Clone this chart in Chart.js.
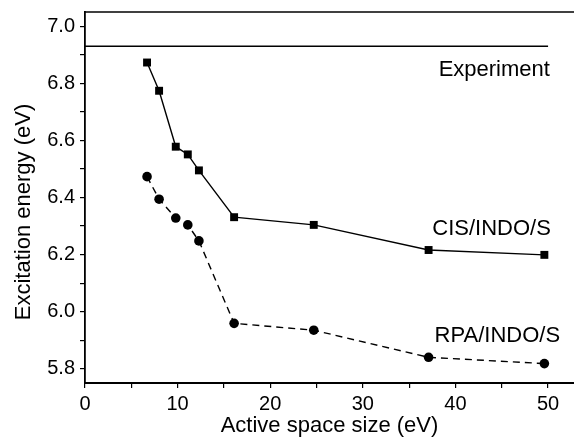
<!DOCTYPE html>
<html>
<head>
<meta charset="utf-8">
<script src="https://cdn.jsdelivr.net/npm/chart.js@4"></script>
<style>
  body { margin: 0; background: #fff; }
</style>
</head>
<body>
<canvas id="energyChart" width="574" height="439"></canvas>
<script>
// active space size (eV)
const activeSpace = [6.7, 8.0, 9.8, 11.1, 12.3, 16.1, 24.7, 37.1, 49.6];
const cisValues = [6.873, 6.774, 6.578, 6.551, 6.495, 6.331, 6.304, 6.216, 6.199];
const rpaValues = [6.473, 6.394, 6.328, 6.304, 6.248, 5.959, 5.935, 5.840, 5.818];
const experimentX = [0, 50];
const experimentY = [6.93, 6.93];

const xTicks = [0, 5, 10, 15, 20, 25, 30, 35, 40, 45, 50];
const yTicks = [5.8, 5.9, 6.0, 6.1, 6.2, 6.3, 6.4, 6.5, 6.6, 6.7, 6.8, 6.9, 7.0];

// text labels, anchored in data units (right edge, baseline)
const labelText = ['Experiment', 'CIS/INDO/S', 'RPA/INDO/S'];
const labelX = [50.2, 50.3, 51.3];
const labelY = [6.825, 6.269, 5.895];

const FONT = '"Liberation Sans", Arial, sans-serif';
const toPoints = (xs, ys) => xs.map((x, i) => ({ x: x, y: ys[i] }));

// top frame line, y title, curve labels
const extras = {
    id: 'extras',
    afterDraw(chart) {
        const { ctx, chartArea, scales } = chart;
        ctx.save();
        ctx.strokeStyle = '#000';
        ctx.lineWidth = 1.5;
        ctx.beginPath();
        ctx.moveTo(chartArea.left, chartArea.top);
        ctx.lineTo(chartArea.right, chartArea.top);
        ctx.stroke();

        ctx.fillStyle = '#000';
        ctx.font = '22px ' + FONT;
        ctx.textAlign = 'right';
        ctx.textBaseline = 'alphabetic';
        labelText.forEach((t, i) => {
            ctx.fillText(t, scales.x.getPixelForValue(labelX[i]), scales.y.getPixelForValue(labelY[i]));
        });

        ctx.translate(24, 212);
        ctx.rotate(-Math.PI / 2);
        ctx.textAlign = 'center';
        ctx.textBaseline = 'middle';
        ctx.fillText('Excitation energy (eV)', 0, 0);
        ctx.restore();
    }
};

const ctx = document.getElementById('energyChart').getContext('2d');
const energyChart = new Chart(ctx, {
    type: 'scatter',
    data: {
        datasets: [{
            label: 'Experiment',
            data: toPoints(experimentX, experimentY),
            showLine: true,
            borderColor: '#000',
            borderWidth: 1.5,
            pointRadius: 0
        }, {
            label: 'CIS/INDO/S',
            data: toPoints(activeSpace, cisValues),
            showLine: true,
            borderColor: '#000',
            borderWidth: 1.4,
            pointStyle: 'rect',
            pointRadius: 5.6,
            pointBackgroundColor: '#000',
            pointBorderColor: '#000',
            pointBorderWidth: 0
        }, {
            label: 'RPA/INDO/S',
            data: toPoints(activeSpace, rpaValues),
            showLine: true,
            borderColor: '#000',
            borderWidth: 1.4,
            borderDash: [7, 5],
            pointStyle: 'circle',
            pointRadius: 4.8,
            pointBackgroundColor: '#000',
            pointBorderColor: '#000',
            pointBorderWidth: 0
        }]
    },
    options: {
        responsive: false,
        animation: false,
        layout: { autoPadding: false, padding: { top: 12, right: 0, bottom: 0, left: 0 } },
        plugins: {
            legend: { display: false },
            tooltip: { enabled: false }
        },
        scales: {
            x: {
                type: 'linear',
                min: 0,
                max: 52.8,
                afterBuildTicks: s => { s.ticks = xTicks.map(v => ({ value: v })); },
                afterFit: s => { s.height = 56; s.paddingLeft = 0; s.paddingRight = 0; },
                border: { color: '#000', width: 2 },
                grid: { drawOnChartArea: false, color: '#000', tickLength: 5, lineWidth: 1.2 },
                ticks: {
                    color: '#000',
                    padding: 4,
                    maxRotation: 0,
                    font: { family: FONT, size: 20 },
                    callback: v => (v % 10 === 0 ? String(v) : '')
                },
                title: {
                    display: true,
                    text: 'Active space size (eV)',
                    color: '#000',
                    padding: { top: 0, bottom: 0 },
                    font: { family: FONT, size: 22 }
                }
            },
            y: {
                min: 5.75,
                max: 7.05,
                afterBuildTicks: s => { s.ticks = yTicks.map(v => ({ value: v })); },
                afterFit: s => { s.width = 85; s.paddingTop = 0; s.paddingBottom = 0; },
                border: { color: '#000', width: 1.8 },
                grid: { drawOnChartArea: false, color: '#000', tickLength: 5, lineWidth: 1.2 },
                ticks: {
                    color: '#000',
                    padding: 5,
                    font: { family: FONT, size: 20 },
                    callback: v => (Math.round(v * 10) % 2 === 0 ? v.toFixed(1) : '')
                }
            }
        }
    },
    plugins: [extras]
});
</script>
</body>
</html>
